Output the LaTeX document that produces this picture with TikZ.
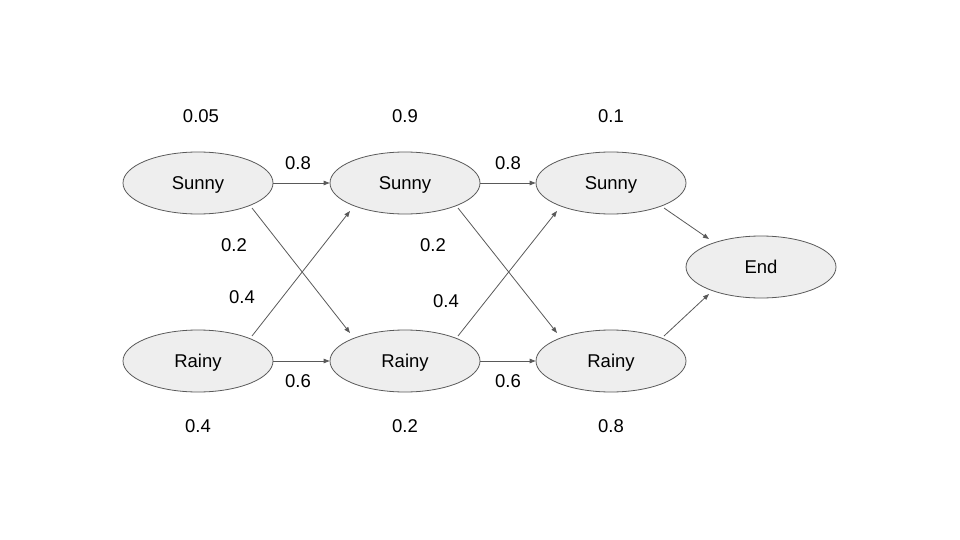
\documentclass[tikz,border=0pt]{standalone}
\usepackage{fontspec}
\setmainfont{Liberation Sans}
\usetikzlibrary{shapes.geometric,arrows.meta}
\definecolor{stategray}{HTML}{EEEEEE}
\definecolor{edgegray}{HTML}{595959}
\begin{document}
\begin{tikzpicture}[x=1pt,y=-1pt,
  font=\fontsize{18.5}{21}\selectfont,
  state/.style={ellipse,draw=edgegray,fill=stategray,line width=0.8pt,
    minimum width=150pt,minimum height=62pt,inner sep=0pt,
    text height=13pt,text depth=0pt},
  trans/.style={draw=edgegray,line width=0.8pt,
    -{Triangle[length=6pt,width=4.5pt]}},
  prob/.style={inner sep=0pt,anchor=center,text height=13pt,text depth=0pt}]
\useasboundingbox (0,0) rectangle (960,540);
% states
\node[state] (s1) at (198,183) {Sunny};
\node[state] (s2) at (405,183) {Sunny};
\node[state] (s3) at (611,183) {Sunny};
\node[state] (r1) at (198,361) {Rainy};
\node[state] (r2) at (405,361) {Rainy};
\node[state] (r3) at (611,361) {Rainy};
\node[state] (e)  at (761,267) {End};
% transitions
\draw[trans] (s1) -- (s2);
\draw[trans] (s2) -- (s3);
\draw[trans] (r1) -- (r2);
\draw[trans] (r2) -- (r3);
\draw[trans] ([shift={(54,25)}]s1.center) -- ([shift={(-55,-28)}]r2.center);
\draw[trans] ([shift={(54,-25)}]r1.center) -- ([shift={(-55,28)}]s2.center);
\draw[trans] ([shift={(53,25)}]s2.center) -- ([shift={(-54,-28)}]r3.center);
\draw[trans] ([shift={(53,-25)}]r2.center) -- ([shift={(-54,28)}]s3.center);
\draw[trans] ([shift={(53,25)}]s3.center) -- ([shift={(-52,-28)}]e.center);
\draw[trans] ([shift={(53,-25)}]r3.center) -- ([shift={(-52,27)}]e.center);
% probabilities
\node[prob] (p1) at (201,116) {0.05};
\node[prob] (p2) at (405,116) {0.9};
\node[prob] (p3) at (611,116) {0.1};
\node[prob] (p4) at (198,426) {0.4};
\node[prob] (p5) at (405,426) {0.2};
\node[prob] (p6) at (611,426) {0.8};
\node[prob] (p7) at (298,163) {0.8};
\node[prob] (p8) at (508,163) {0.8};
\node[prob] (p9) at (234,245) {0.2};
\node[prob] (p10) at (433,245) {0.2};
\node[prob] (p11) at (242,297) {0.4};
\node[prob] (p12) at (446,301) {0.4};
\node[prob] (p13) at (298,381) {0.6};
\node[prob] (p14) at (508,381) {0.6};
\end{tikzpicture}
\end{document}
